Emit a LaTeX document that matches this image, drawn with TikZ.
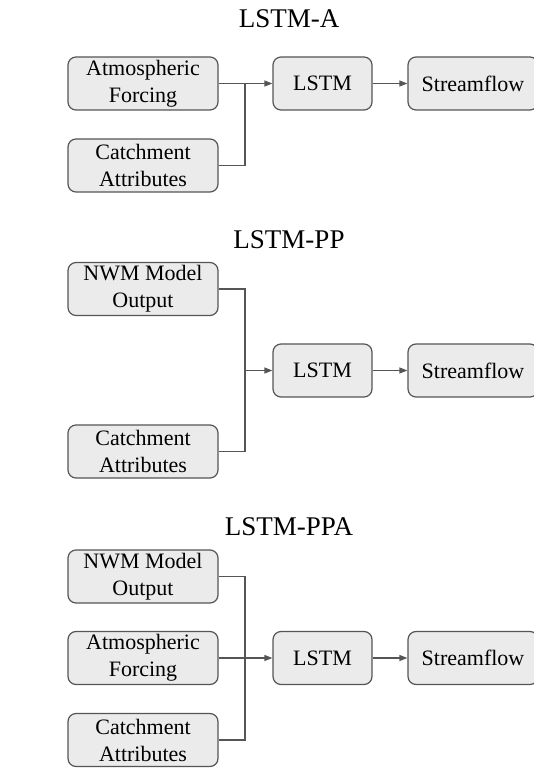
\documentclass[tikz,border=0pt]{standalone}
\usepackage{fontspec}
\setmainfont{Liberation Serif}
\usetikzlibrary{arrows.meta, positioning}
\definecolor{boxgrey}{HTML}{EBEBEB}
\definecolor{linegrey}{HTML}{555555}

\tikzset{
  inbox/.style={draw=linegrey, fill=boxgrey, rounded corners=4pt, line width=0.6pt,
                minimum width=75pt, minimum height=26.5pt, align=center, inner sep=0pt,
                font=\fontsize{11}{13.5}\selectfont},
  lstmbox/.style={inbox, minimum width=49.5pt},
  outbox/.style={inbox, minimum width=65pt},
  title/.style={font=\fontsize{13.5}{15}\selectfont},
  feed/.style={draw=linegrey, line width=0.6pt},
  flow/.style={feed, -{Triangle[length=4pt, width=3pt]}},
}

\begin{document}
\begin{tikzpicture}[x=0.5pt, y=-0.5pt]
    \useasboundingbox (0,0) rectangle (534,769);
    % LSTM-A
    \node[title] (titleA) at (289,19) {LSTM-A};
    \node[inbox] (atmA) at (143,83.5) {Atmospheric\\Forcing};
    \node[inbox] (catA) at (143,165.5) {Catchment\\Attributes};
    \node[lstmbox] (lstmA) at (322.5,83.5) {LSTM};
    \node[outbox] (outA) at (473,83.5) {Streamflow};
    \coordinate (jA) at (245,83.5);
    \draw[feed] (catA.east) -| (jA);
    \draw[flow] (atmA) -- (lstmA);
    \draw[flow] (lstmA) -- (outA);
    % LSTM-PP
    \node[title] (titlePP) at (289,240) {LSTM-PP};
    \node[inbox] (nwmPP) at (143,289) {NWM Model\\Output};
    \node[inbox] (catPP) at (143,451.5) {Catchment\\Attributes};
    \node[lstmbox] (lstmPP) at (322.5,370.5) {LSTM};
    \node[outbox] (outPP) at (473,370.5) {Streamflow};
    \coordinate (jPP) at (245,370.5);
    \draw[feed] (nwmPP.east) -| (jPP);
    \draw[feed] (catPP.east) -| (jPP);
    \draw[flow] (jPP) -- (lstmPP);
    \draw[flow] (lstmPP) -- (outPP);
    % LSTM-PPA
    \node[title] (titlePPA) at (289,527) {LSTM-PPA};
    \node[inbox] (nwmPPA) at (143,576.5) {NWM Model\\Output};
    \node[inbox] (atmPPA) at (143,658) {Atmospheric\\Forcing};
    \node[inbox] (catPPA) at (143,740) {Catchment\\Attributes};
    \node[lstmbox] (lstmPPA) at (322.5,658) {LSTM};
    \node[outbox] (outPPA) at (473,658) {Streamflow};
    \coordinate (jPPA) at (245,658);
    \draw[feed] (nwmPPA.east) -| (jPPA);
    \draw[feed] (catPPA.east) -| (jPPA);
    \draw[flow] (atmPPA) -- (lstmPPA);
    \draw[flow] (lstmPPA) -- (outPPA);
\end{tikzpicture}
\end{document}
